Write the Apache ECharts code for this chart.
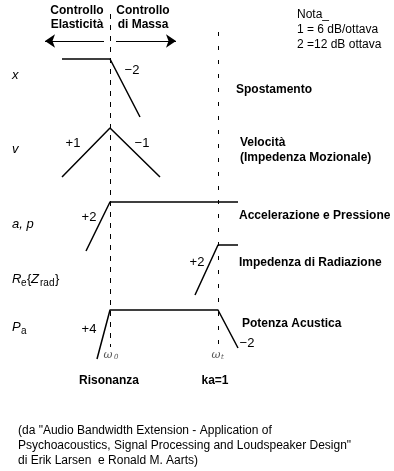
<!DOCTYPE html>
<html>
<head>
<meta charset="utf-8">
<script src="https://cdn.jsdelivr.net/npm/echarts@6/dist/echarts.min.js"></script>
<style>html,body{margin:0;padding:0;background:#fff}#c{width:394px;height:471px}</style>
</head>
<body>
<div id="c"></div>
<script>
// Schematic response curves (diagram units = chart units)
const displacement = [[62, 59], [110, 59], [140, 117]];
const velocity = [[62, 177], [110, 128], [160, 177]];
const accelPressure = [[86, 251], [110, 202], [238, 202]];
const radiationImp = [[195, 295], [218, 245], [238, 245]];
const acousticPower = [[97, 359], [110, 310], [218, 310], [238, 348]];
const resonanceMarker = [[110.5, 14], [110.5, 347]];
const kaMarker = [[218.5, 32], [218.5, 347]];
const leftArrow = [[104, 41], [45, 41]];
const rightArrow = [[116, 41], [176, 41]];

const headerLeft = ['Controllo', 'Elasticità'];
const headerRight = ['Controllo', 'di Massa'];
const noteLines = ['Nota_', '1 = 6 dB/ottava', '2 =12 dB ottava'];
const slopeLabels = ['\u22122', '+1', '\u22121', '+2', '+2', '+4', '\u22122'];
const curveNames = ['Spostamento', 'Velocità', '(Impedenza Mozionale)', 'Accelerazione e Pressione', 'Impedenza di Radiazione', 'Potenza Acustica'];
const markerNames = ['Risonanza', 'ka=1'];
const citation = [
  '(da "Audio Bandwidth Extension - Application of',
  'Psychoacoustics, Signal Processing and Loudspeaker Design"',
  'di Erik Larsen  e Ronald M. Aarts)'
];

const FONT = '"Liberation Sans", Arial, Helvetica, sans-serif';
const chart = echarts.init(document.getElementById('c'));

function curve(data) {
  return { type: 'line', data: data, symbol: 'none', silent: true, animation: false,
    lineStyle: { color: '#000', width: 1.5 } };
}
function dashed(data, pattern) {
  return { type: 'line', data: data, symbol: 'none', silent: true, animation: false,
    lineStyle: { color: '#000', width: 1, type: pattern } };
}
function arrow(coords) {
  return { type: 'lines', coordinateSystem: 'cartesian2d', silent: true, animation: false,
    symbol: ['none', 'arrow'], symbolSize: [7, 10],
    lineStyle: { color: '#000', width: 1.2, opacity: 1 },
    data: [{ coords: coords }] };
}
function txt(x, y, s, opt) {
  opt = opt || {};
  return { type: 'text', x: x, y: y, silent: true,
    style: { text: s, fill: opt.color || '#000', font: (opt.italic ? 'italic ' : '') + (opt.bold ? 'bold ' : '') + (opt.size || 12) + 'px ' + (opt.family || FONT),
      textAlign: opt.align || 'left', textVerticalAlign: 'middle' } };
}

const g = [];
// headers
g.push(txt(77, 11, headerLeft[0], {bold: true, align: 'center'}));
g.push(txt(77, 25, headerLeft[1], {bold: true, align: 'center'}));
g.push(txt(143, 11, headerRight[0], {bold: true, align: 'center'}));
g.push(txt(143, 25, headerRight[1], {bold: true, align: 'center'}));
// note
g.push(txt(297, 15, noteLines[0]));
g.push(txt(297, 30, noteLines[1]));
g.push(txt(297, 45, noteLines[2]));
// left axis symbols
g.push(txt(12, 75, 'x', {italic: true, size: 13}));
g.push(txt(12, 149, 'v', {italic: true, size: 13}));
g.push(txt(12, 224, 'a, p', {italic: true, size: 13}));
g.push(txt(12, 279, 'R', {italic: true, size: 13}));
g.push(txt(21, 283, 'e', {size: 10}));
g.push(txt(27, 279, '{', {size: 13}));
g.push(txt(31, 279, 'Z', {italic: true, size: 13}));
g.push(txt(40, 283, 'rad', {size: 10}));
g.push(txt(55, 279, '}', {size: 13}));
g.push(txt(12, 327, 'P', {italic: true, size: 13}));
g.push(txt(21, 331, 'a', {size: 10}));
// slope labels
g.push(txt(132, 70, slopeLabels[0], {align: 'center', size: 13}));
g.push(txt(73, 143, slopeLabels[1], {align: 'center', size: 13}));
g.push(txt(142, 143, slopeLabels[2], {align: 'center', size: 13}));
g.push(txt(89, 217, slopeLabels[3], {align: 'center', size: 13}));
g.push(txt(197, 262, slopeLabels[4], {align: 'center', size: 13}));
g.push(txt(89, 329, slopeLabels[5], {align: 'center', size: 13}));
g.push(txt(247, 343, slopeLabels[6], {align: 'center', size: 13}));
// curve names
g.push(txt(236, 90, curveNames[0], {bold: true}));
g.push(txt(240, 143, curveNames[1], {bold: true}));
g.push(txt(240, 158, curveNames[2], {bold: true}));
g.push(txt(239, 216, curveNames[3], {bold: true}));
g.push(txt(239, 263, curveNames[4], {bold: true}));
g.push(txt(242, 324, curveNames[5], {bold: true}));
// omega markers
g.push(txt(108, 355, '\u03c9', {italic: true, size: 11, color: '#555', family: '"DejaVu Serif", serif', align: 'center'}));
g.push(txt(114, 357, '0', {italic: true, size: 7, color: '#555', family: '"DejaVu Serif", serif'}));
g.push(txt(216, 355, '\u03c9', {italic: true, size: 11, color: '#555', family: '"DejaVu Serif", serif', align: 'center'}));
g.push(txt(221, 357, 't', {italic: true, size: 7, color: '#555', family: '"DejaVu Serif", serif'}));
g.push(txt(109, 381, markerNames[0], {bold: true, align: 'center'}));
g.push(txt(215, 381, markerNames[1], {bold: true, align: 'center'}));
// citation
g.push(txt(18, 431, citation[0]));
g.push(txt(18, 446, citation[1]));
g.push(txt(18, 461, citation[2]));

chart.setOption({
  animation: false,
  backgroundColor: '#fff',
  grid: { left: 0, right: 0, top: 0, bottom: 0 },
  xAxis: { type: 'value', min: 0, max: 394, show: false },
  yAxis: { type: 'value', min: 0, max: 471, inverse: true, show: false },
  series: [
    dashed(resonanceMarker, [5, 6]),
    dashed(kaMarker, [4, 10]),
    curve(displacement),
    curve(velocity),
    curve(accelPressure),
    curve(radiationImp),
    curve(acousticPower),
    arrow(leftArrow),
    arrow(rightArrow)
  ],
  graphic: g
});
</script>
</body>
</html>
